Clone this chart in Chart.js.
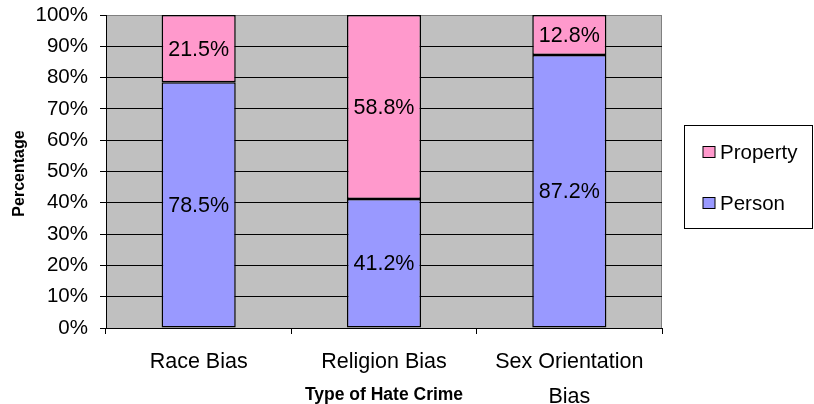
<!DOCTYPE html>
<html>
<head>
<meta charset="utf-8">
<script src="https://cdn.jsdelivr.net/npm/chart.js@4/dist/chart.umd.min.js"></script>
<style>
  html, body { margin: 0; padding: 0; background: #ffffff; }
  #wrap { width: 814px; height: 404px; }
</style>
</head>
<body>
<div id="wrap"><canvas id="c" width="814" height="404"></canvas></div>
<script>
// Share of hate crimes by victim type, per bias category
const categories = [["Race Bias"], ["Religion Bias"], ["Sex Orientation", "Bias"]];
const personValues = [78.5, 41.2, 87.2];
const propertyValues = [21.5, 58.8, 12.8];
const yTickValues = [0, 10, 20, 30, 40, 50, 60, 70, 80, 90, 100];

const FONT = "'Liberation Sans', Arial, sans-serif";

// gray plot background with a thin border
const plotBackground = {
  id: 'plotBackground',
  beforeDraw(chart) {
    const { ctx, chartArea: a } = chart;
    ctx.save();
    ctx.fillStyle = '#c0c0c0';
    ctx.fillRect(a.left, a.top, a.right - a.left, a.bottom - a.top);
    ctx.strokeStyle = '#808080';
    ctx.lineWidth = 1;
    ctx.strokeRect(a.left + 0.5, a.top + 0.5, a.right - a.left - 1, a.bottom - a.top);
    ctx.restore();
  }
};

// value labels centred in each bar segment
const segmentLabels = {
  id: 'segmentLabels',
  afterDatasetsDraw(chart) {
    const { ctx } = chart;
    ctx.save();
    ctx.font = '21.5px ' + FONT;
    ctx.fillStyle = '#000';
    ctx.textAlign = 'center';
    ctx.textBaseline = 'middle';
    chart.data.datasets.forEach((ds, di) => {
      const meta = chart.getDatasetMeta(di);
      meta.data.forEach((bar, i) => {
        const p = bar.getProps(['x', 'y', 'base'], true);
        ctx.fillText(ds.data[i].toFixed(1) + '%', p.x, (p.y + p.base) / 2 + 1);
      });
    });
    ctx.restore();
  }
};

// axis titles and boxed legend
const decorations = {
  id: 'decorations',
  afterDraw(chart) {
    const { ctx, chartArea: a } = chart;
    ctx.save();
    ctx.fillStyle = '#000';
    ctx.textAlign = 'center';
    ctx.textBaseline = 'middle';
    ctx.font = 'bold 17.5px ' + FONT;
    ctx.fillText('Type of Hate Crime', (a.left + a.right) / 2, 395);
    ctx.font = 'bold 16px ' + FONT;
    ctx.translate(20, (a.top + a.bottom) / 2 + 2);
    ctx.rotate(-Math.PI / 2);
    ctx.fillText('Percentage', 0, 0);
    ctx.restore();

    // legend
    ctx.save();
    ctx.strokeStyle = '#000';
    ctx.lineWidth = 1;
    ctx.strokeRect(684.5, 125.5, 128, 103);
    const items = chart.data.datasets.slice().reverse();
    const rows = [152, 203];
    ctx.font = '20.5px ' + FONT;
    ctx.textAlign = 'left';
    ctx.textBaseline = 'middle';
    items.forEach((ds, k) => {
      const cy = rows[k];
      ctx.fillStyle = ds.backgroundColor;
      ctx.fillRect(703, cy - 5.5, 12, 11);
      ctx.strokeStyle = '#000';
      ctx.strokeRect(703, cy - 5.5, 12, 11);
      ctx.fillStyle = '#000';
      ctx.fillText(ds.label, 720, cy + 1);
    });
    ctx.restore();
  }
};

new Chart(document.getElementById('c'), {
  type: 'bar',
  data: {
    labels: categories,
    datasets: [
      {
        label: 'Person',
        data: personValues,
        backgroundColor: '#9999ff',
        borderColor: '#000',
        borderWidth: 1.5,
        borderSkipped: false,
        barPercentage: 0.4,
        categoryPercentage: 1
      },
      {
        label: 'Property',
        data: propertyValues,
        backgroundColor: '#ff99cc',
        borderColor: '#000',
        borderWidth: 1.5,
        borderSkipped: false,
        barPercentage: 0.4,
        categoryPercentage: 1
      }
    ]
  },
  options: {
    responsive: false,
    animation: false,
    devicePixelRatio: 1,
    layout: { padding: { top: 15, right: 152, left: 0, bottom: 0 } },
    plugins: {
      legend: { display: false },
      tooltip: { enabled: false }
    },
    scales: {
      x: {
        stacked: true,
        afterFit(scale) {
          scale.height = 76;
          scale.paddingLeft = 0;
          scale.paddingRight = 0;
        },
        grid: {
          offset: true,
          drawOnChartArea: false,
          drawTicks: true,
          tickLength: 6,
          color: '#000'
        },
        border: { color: '#000', width: 1 },
        ticks: {
          color: '#000',
          padding: 11,
          maxRotation: 0,
          autoSkip: false,
          font: { family: FONT, size: 21.5, lineHeight: 1.6 }
        }
      },
      y: {
        stacked: true,
        min: 0,
        max: 100,
        afterFit(scale) {
          scale.width = 106;
          scale.paddingTop = 0;
          scale.paddingBottom = 0;
        },
        afterBuildTicks(scale) { scale.ticks = yTickValues.map(v => ({ value: v })); },
        grid: {
          tickLength: 6,
          color: ctx => (ctx.tick && ctx.tick.value === 100 ? '#808080' : '#000'),
          tickColor: '#000',
          lineWidth: 1
        },
        border: { color: '#000', width: 1 },
        ticks: {
          color: '#000',
          padding: 12,
          font: { family: FONT, size: 20.5 },
          callback: v => v + '%'
        }
      }
    }
  },
  plugins: [plotBackground, segmentLabels, decorations]
});
</script>
</body>
</html>
